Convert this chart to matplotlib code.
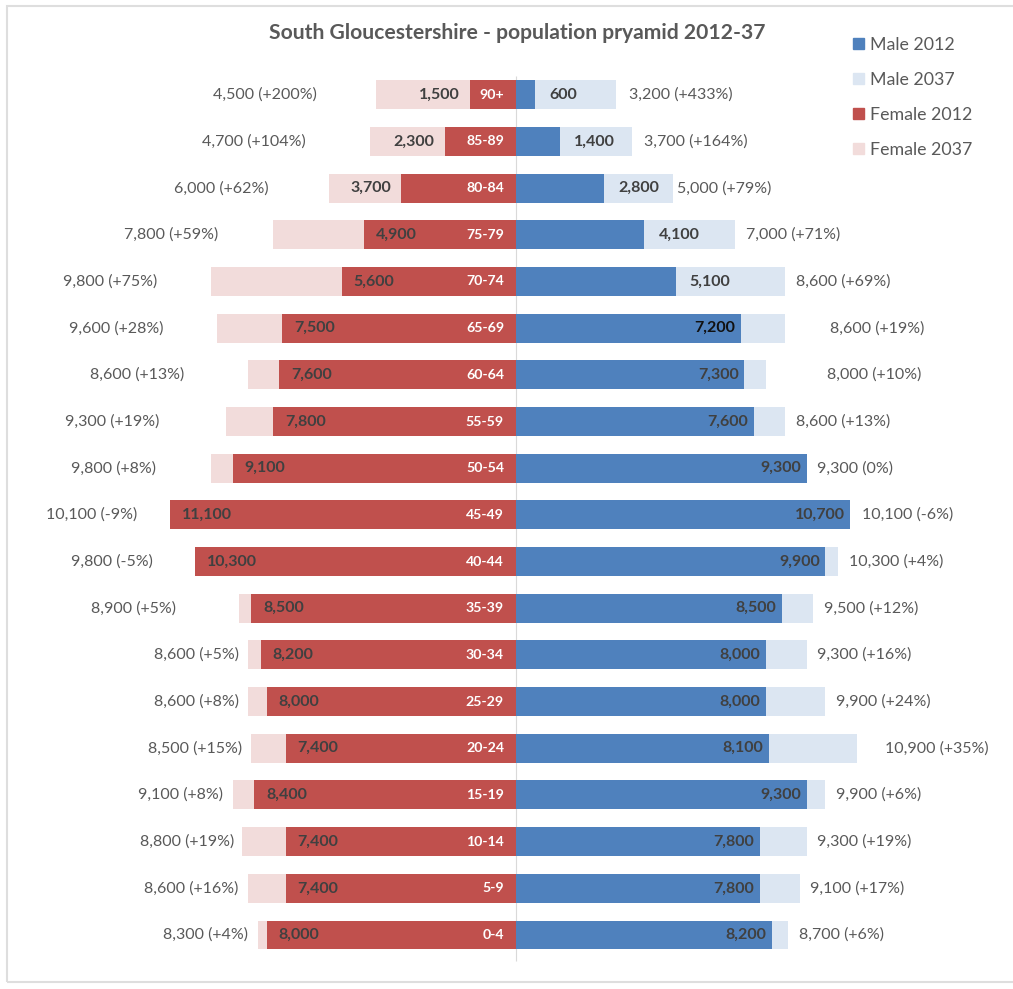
import matplotlib.pyplot as plt
from matplotlib.patches import Rectangle, Patch

plt.rcParams['font.family'] = ['Lato', 'DejaVu Sans']

# age bands, bottom to top
ages = ['0-4', '5-9', '10-14', '15-19', '20-24', '25-29', '30-34', '35-39', '40-44',
        '45-49', '50-54', '55-59', '60-64', '65-69', '70-74', '75-79', '80-84',
        '85-89', '90+']

female_2012 = [8000, 7400, 7400, 8400, 7400, 8000, 8200, 8500, 10300, 11100,
               9100, 7800, 7600, 7500, 5600, 4900, 3700, 2300, 1500]
female_2037 = [8300, 8600, 8800, 9100, 8500, 8600, 8600, 8900, 9800, 10100,
               9800, 9300, 8600, 9600, 9800, 7800, 6000, 4700, 4500]
male_2012 = [8200, 7800, 7800, 9300, 8100, 8000, 8000, 8500, 9900, 10700,
             9300, 7600, 7300, 7200, 5100, 4100, 2800, 1400, 600]
male_2037 = [8700, 9100, 9300, 9900, 10900, 9900, 9300, 9500, 10300, 10100,
             9300, 8600, 8000, 8600, 8600, 7000, 5000, 3700, 3200]

# gap (in thousands) between bar end and the 2037 label, as placed in the original
f_pad = [0.3, 0.3, 0.25, 0.3, 0.3, 0.3, 0.3, 2.0, 1.35, 1.05,
         1.75, 2.15, 2.05, 1.7, 1.7, 1.75, 1.95, 2.05, 1.9]
m_pad = [0.35, 0.3, 0.33, 0.34, 0.9, 0.34, 0.33, 0.36, 0.36, 0.37,
         0.33, 0.36, 1.95, 1.45, 0.36, 0.36, 0.15, 0.39, 0.41]

c_m12 = '#4f81bd'
c_m37 = '#dce6f2'
c_f12 = '#c0504d'
c_f37 = '#f2dcdb'
txt = '#595959'
val = '#404040'


def fmt(v):
    return f'{v:,}'


def change(a, b):
    p = round((b - a) / a * 100)
    return f'(+{p}%)' if p > 0 else f'({p}%)'


fig = plt.figure(figsize=(10.13, 9.89), dpi=100)
ax = fig.add_axes([0, 0, 1, 1])
ax.set_xlim(-16554, 15913)
ax.set_ylim(-1.157, 20.03)
ax.axis('off')

y = list(range(len(ages)))
h = 0.62

ax.vlines(0, -0.55, 18.4, color='#d9d9d9', lw=0.8, zorder=0.5)

ax.barh(y, [-v for v in female_2037], height=h, color=c_f37, zorder=1)
ax.barh(y, male_2037, height=h, color=c_m37, zorder=1)
ax.barh(y, [-v for v in female_2012], height=h, color=c_f12, zorder=2)
ax.barh(y, male_2012, height=h, color=c_m12, zorder=2)

fs = 11.5
for i, age in enumerate(ages):
    f12, f37, m12, m37 = female_2012[i], female_2037[i], male_2012[i], male_2037[i]
    # age band in the female bar
    ax.text(-400, i, age, ha='right', va='center', color='white',
            fontsize=10.2, fontweight='bold', zorder=3)
    # female 2012 value
    if f12 >= 4500:
        ax.text(-f12 + 380, i, fmt(f12), ha='left', va='center', color=val,
                fontsize=fs, fontweight='bold', zorder=3)
    else:
        ax.text(-f12 - 330, i, fmt(f12), ha='right', va='center', color=val,
                fontsize=fs, fontweight='bold', zorder=3)
    # male 2012 value
    mcol = '#111111' if age == '65-69' else val
    if m12 >= 6000:
        ax.text(m12 - 180, i, fmt(m12), ha='right', va='center', color=mcol,
                fontsize=fs, fontweight='bold', zorder=3)
    else:
        ax.text(m12 + 450, i, fmt(m12), ha='left', va='center', color=val,
                fontsize=fs, fontweight='bold', zorder=3)
    # 2037 values with change
    fx = max(f12, f37) + f_pad[i] * 1000
    ax.text(-fx, i, f'{fmt(f37)} {change(f12, f37)}', ha='right', va='center',
            color=txt, fontsize=fs, zorder=3)
    mx = max(m12, m37) + m_pad[i] * 1000
    ax.text(mx, i, f'{fmt(m37)} {change(m12, m37)}', ha='left', va='center',
            color=txt, fontsize=fs, zorder=3)

fig.text(517 / 1013, 1 - 33 / 989, 'South Gloucestershire - population pryamid 2012-37',
         ha='center', va='center', color=txt, fontsize=15.2, fontweight='bold')

handles = [Patch(color=c_m12), Patch(color=c_m37), Patch(color=c_f12), Patch(color=c_f37)]
labels = ['Male 2012', 'Male 2037', 'Female 2012', 'Female 2037']
leg = fig.legend(handles, labels, loc='upper left', bbox_to_anchor=(853 / 1013, 1 - 37 / 989),
                 frameon=False, fontsize=12.8, handlelength=0.6, handleheight=0.6,
                 handletextpad=0.35, labelspacing=1.07, borderpad=0, borderaxespad=0)
for t in leg.get_texts():
    t.set_color(txt)

fig.patches.append(Rectangle((7 / 1013, 1 - 982 / 989), 1.2, 976 / 989, transform=fig.transFigure,
                             fill=False, ec='#dedede', lw=1.5, clip_on=False))

fig.savefig('out.png', dpi=100)
